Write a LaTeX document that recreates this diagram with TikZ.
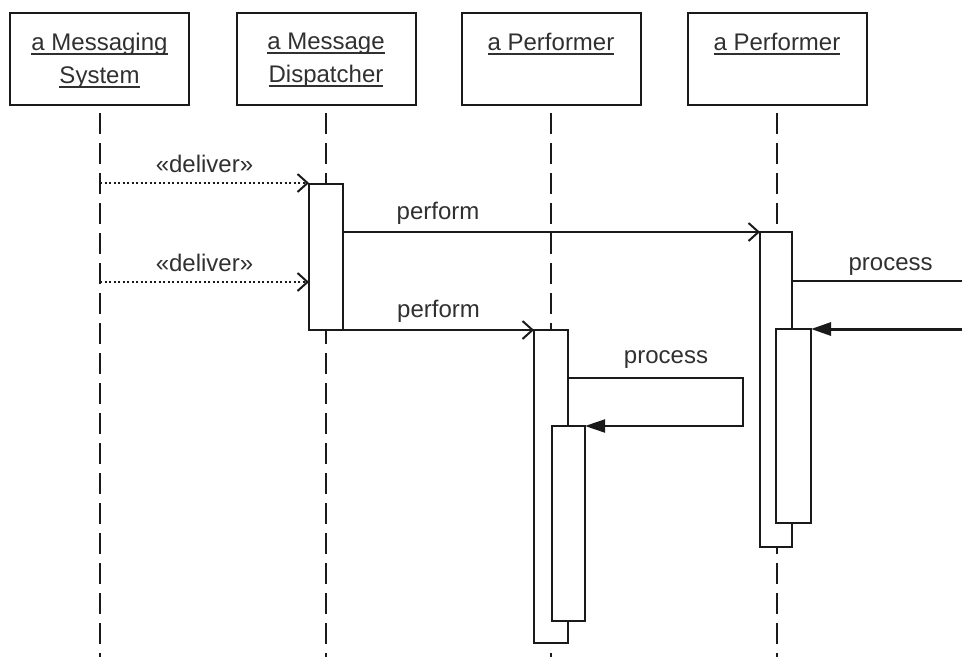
\documentclass[tikz,border=0pt]{standalone}
\usepackage{fontspec}
\setmainfont{Liberation Sans}
\usetikzlibrary{positioning,arrows.meta}
\definecolor{sqline}{HTML}{1A1A1A}
\definecolor{sqtext}{HTML}{303030}
\newcommand\objname[1]{\setbox0\hbox{#1}\rlap{\rule[-4pt]{\wd0}{1.6pt}}\box0}
\tikzset{
  objbox/.style  ={draw=sqline, line width=2pt, minimum width=179pt, minimum height=92pt, inner sep=0pt},
  objtext/.style ={anchor=north, inner sep=0pt, align=center, text=sqtext},
  act/.style     ={draw=sqline, fill=white, line width=2pt, inner sep=0pt, outer sep=0pt, anchor=north},
  lifeline/.style={draw=sqline, line width=2pt, dash pattern=on 21pt off 9pt},
  msg/.style     ={draw=sqline, line width=2pt, -{Straight Barb[length=10pt,width=18pt,line width=2pt]}},
  dotmsg/.style  ={msg, dash pattern=on 2pt off 2.5pt},
  ret/.style     ={draw=sqline, line width=2pt, -{Triangle[length=20pt,width=13pt]}},
  lbl/.style     ={anchor=base, text=sqtext, inner sep=0pt},
}

\begin{document}
\begin{tikzpicture}[x=1pt,y=-1pt,font=\fontsize{24}{33}\selectfont]
  \useasboundingbox (0,0) rectangle (962,657);
  \coordinate (bottom) at (0,657);

  % objects
  \node[objbox] (sys)   at (99.5,59) {};
  \node[objbox] (disp)  at (326,59) {};
  \node[objbox] (perfA) at (551,59) {};
  \node[objbox] (perfB) at (777,59) {};
  \node[objtext,below=21pt of sys.north]   (systxt)   {\objname{a Messaging}\\\objname{System}};
  \node[objtext,below=21pt of disp.north]  (disptxt)  {\objname{a Message}\\\objname{Dispatcher}};
  \node[objtext,below=21pt of perfA.north] (perfAtxt) {\objname{a Performer}};
  \node[objtext,below=21pt of perfB.north] (perfBtxt) {\objname{a Performer}};

  \foreach \o in {sys,disp,perfA,perfB}
    \draw[lifeline] ([yshift=-7pt]\o.south) -- (\o.south |- bottom);

  % activations
  \node[act,minimum width=34pt,minimum height=146pt] (dispact)  at (326,184) {};
  \node[act,minimum width=34pt,minimum height=313pt] (perfAact) at (551,330) {};
  \node[act,minimum width=33pt,minimum height=195pt] (perfAin)  at (568.5,426) {};
  \node[act,minimum width=32pt,minimum height=315pt] (perfBact) at (776,232) {};
  \node[act,minimum width=35pt,minimum height=194pt] (perfBin)  at (793.5,329) {};

  % messages
  \coordinate (dl1) at (100,183);
  \coordinate (dl2) at (100,282);
  \draw[dotmsg] (dl1) -- node[lbl,yshift=11pt]{«deliver»} (dl1 -| dispact.west);
  \draw[dotmsg] (dl2) -- node[lbl,yshift=11pt]{«deliver»} (dl2 -| dispact.west);
  \draw[msg] (dispact.east |- perfBact.north) -- node[lbl,pos=0.228,yshift=13pt]{perform} (perfBact.north west);
  \draw[msg] (dispact.south east) -- node[lbl,yshift=13pt]{perform} (perfAact.north west);

  \coordinate (selfR) at (743,400);
  \draw[ret] (perfAact.east |- 0,378) -- node[lbl,pos=0.56,yshift=15pt]{process} (selfR |- 0,378)
    -- (selfR |- perfAin.north) -- (perfAin.north east);

  \coordinate (rout) at (962,281);
  \coordinate (rin) at (962,329);
  \draw[draw=sqline,line width=2pt] (perfBact.east |- rout) -- node[lbl,pos=0.58,yshift=11pt]{process} (rout);
  \draw[ret,line width=3pt] (rin) -- (rin -| perfBin.east);
\end{tikzpicture}
\end{document}
